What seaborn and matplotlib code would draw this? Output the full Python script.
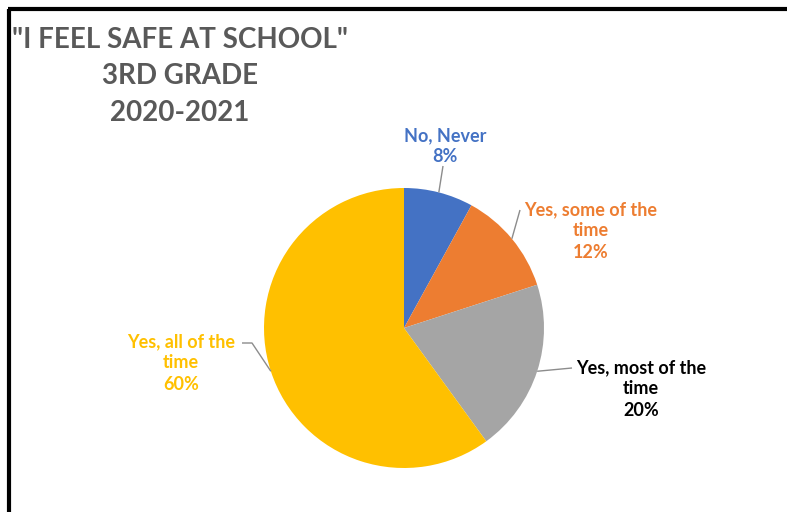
import numpy as np
import matplotlib
matplotlib.use("Agg")
import matplotlib.pyplot as plt
import seaborn as sns

categories = ["No, Never", "Yes, some of the\ntime", "Yes, most of the\ntime", "Yes, all of the\ntime"]
values = [8, 12, 20, 60]
colors = ["#4472C4", "#ED7D31", "#A5A5A5", "#FFC000"]
label_colors = ["#4472C4", "#ED7D31", "#000000", "#FFC000"]
title_lines = ['"I FEEL SAFE AT SCHOOL"', "3RD GRADE", "2020-2021"]

sns.set_theme(style="white")
plt.rcParams["font.family"] = ["Lato", "DejaVu Sans"]

W, H = 787, 512
fig = plt.figure(figsize=(W / 100, H / 100), dpi=100)
ax = fig.add_axes([0, 0, 1, 1])

cx, cy, r = 404, H - 328, 140
wedges, _ = ax.pie(values, colors=colors, startangle=90, counterclock=False,
                   center=(cx, cy), radius=r, frame=True,
                   wedgeprops=dict(linewidth=0))
ax.set_xlim(0, W)
ax.set_ylim(0, H)
ax.axis("off")

# label layout (pixel positions from top-left)
text_pos = [(445, 146), (591, 231), (641, 389), (181, 363)]
line_end = [[(443, 166)], [(520, 210)], [(572, 368)], [(252, 343), (242, 343)]]
for w, cat, v, col, (tx, ty), ends in zip(wedges, categories, values, label_colors, text_pos, line_end):
    mid = np.deg2rad((w.theta1 + w.theta2) / 2)
    sx, sy = cx + r * np.cos(mid), cy + r * np.sin(mid)
    xs = [sx] + [e[0] for e in ends]
    ys = [sy] + [H - e[1] for e in ends]
    ax.plot(xs, ys, color="#8C8C8C", lw=1.0, solid_capstyle="butt")
    ax.text(tx, H - ty, f"{cat}\n{v}%", ha="center", va="center", color=col,
            fontsize=13, fontweight="bold", linespacing=1.3)

# title
for txt, ty in zip(title_lines, [40, 76, 113]):
    ax.text(180, H - ty, txt, ha="center", va="center", color="#595959",
            fontsize=20, fontweight="bold")

# frame lines (top and left)
ax.plot([8, W], [H - 9, H - 9], color="black", lw=3, solid_capstyle="butt")
ax.plot([9, 9], [0, H - 9], color="black", lw=3, solid_capstyle="butt")

fig.savefig("out.png", dpi=100)
